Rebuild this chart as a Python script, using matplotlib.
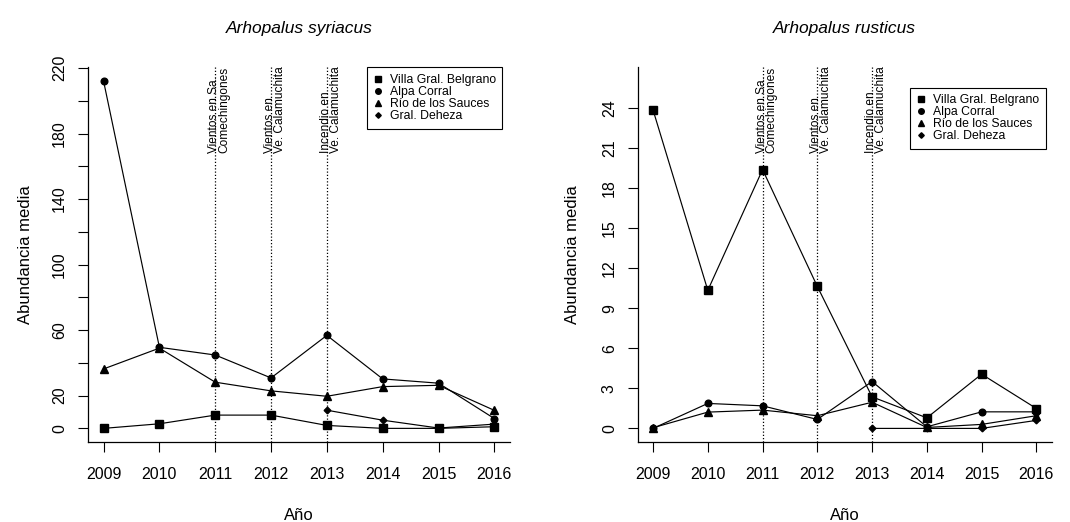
import numpy as np
import matplotlib.pyplot as plt
from matplotlib.lines import Line2D
import matplotlib.transforms as mtransforms

plt.rcParams['font.family'] = ['Liberation Sans', 'DejaVu Sans']

years = [2009, 2010, 2011, 2012, 2013, 2014, 2015, 2016]
sites = ['Villa Gral. Belgrano', 'Alpa Corral', 'Río de los Sauces', 'Gral. Deheza']
markers = ['s', 'o', '^', 'D']
msizes = [5.4, 4.8, 5.8, 3.4]
leg_msizes = [4.2, 4.0, 4.6, 2.8]

# Arhopalus syriacus
syr_villa = [0, 2.8, 8.1, 8.1, 1.8, 0, 0, 1.0]
syr_alpa = [212, 49.5, 44.8, 30.8, 56.8, 30.2, 27.6, 6.0]
syr_rio = [36.3, 49.0, 28.2, 22.9, 19.6, 25.5, 26.3, 11.0]
syr_deheza = [np.nan, np.nan, np.nan, np.nan, 11.1, 5.0, 0.2, 2.6]

# Arhopalus rusticus
rus_villa = [23.84, 10.34, 19.38, 10.63, 2.36, 0.79, 4.06, 1.49]
rus_alpa = [0, 1.87, 1.69, 0.67, 3.51, 0.12, 1.24, 1.24]
rus_rio = [0.05, 1.22, 1.37, 0.95, 1.96, 0.07, 0.3, 0.95]
rus_deheza = [np.nan, np.nan, np.nan, np.nan, 0, 0, 0, 0.6]

syr_yticks = list(range(0, 221, 20))
syr_ylabels = ['0', '20', '', '60', '', '100', '', '140', '', '180', '', '220']
rus_yticks = list(range(0, 25, 3))
rus_ylabels = [str(t) for t in rus_yticks]

event_years = [2011, 2012, 2013]
event_labels = ['Vientos en Sa.\nComechingones',
                'Vientos en\nVe. Calamuchita',
                'Incendio en\nVe. Calamuchita']

fig = plt.figure(figsize=(10.70, 5.22), dpi=100)
ax1 = fig.add_axes([0.0822, 0.1527, 0.3944, 0.7184])
ax2 = fig.add_axes([0.5960, 0.1527, 0.3869, 0.7184])


def draw_panel(ax, title, series, yticks, ylabels, ylim, leg_anchor, ylab_x):
    for vals, m, ms in zip(series, markers, msizes):
        ax.plot(years, vals, color='black', lw=0.85, marker=m, ms=ms,
                mec='black', mfc='black')
    trans = mtransforms.blended_transform_factory(ax.transData, ax.transAxes)
    trans = trans + mtransforms.ScaledTranslation(0.04, 0, fig.dpi_scale_trans)
    for yr, lab in zip(event_years, event_labels):
        ax.axvline(yr, color='black', lw=0.9, ls=(0, (1, 1.6)))
        ax.text(yr, 0.772, lab, rotation=90, ha='center', va='bottom',
                multialignment='left', fontsize=8.6, linespacing=0.78,
                transform=trans)
    ax.set_xlim(2008.72, 2016.28)
    ax.set_ylim(*ylim)
    ax.set_xticks(years)
    ax.set_xticklabels([str(y) for y in years])
    ax.set_yticks(yticks)
    ax.set_yticklabels(ylabels, rotation=90, va='center')
    ax.tick_params(axis='x', length=7, width=0.8, pad=11, labelsize=11.5)
    ax.tick_params(axis='y', length=7, width=0.8, pad=8, labelsize=11.5)
    for s in ['top', 'right']:
        ax.spines[s].set_visible(False)
    for s in ['left', 'bottom']:
        ax.spines[s].set_linewidth(0.9)
    ax.set_title(title, fontsize=12.5, style='italic', pad=25)
    ax.set_xlabel('Año', fontsize=12)
    ax.xaxis.set_label_coords(0.5, -0.175)
    ax.set_ylabel('Abundancia media', fontsize=12)
    ax.yaxis.set_label_coords(ylab_x, 0.5)
    handles = [Line2D([], [], ls='none', marker=m, ms=ms, color='black')
               for m, ms in zip(markers, leg_msizes)]
    leg = ax.legend(handles, sites, loc='upper left', bbox_to_anchor=leg_anchor,
                    fontsize=8.8, frameon=True, fancybox=False, framealpha=1,
                    edgecolor='black', borderpad=0.55, labelspacing=0.0,
                    handlelength=0.7, handletextpad=0.6, borderaxespad=0)
    leg.get_frame().set_linewidth(0.8)


draw_panel(ax1, 'Arhopalus syriacus',
           [syr_villa, syr_alpa, syr_rio, syr_deheza],
           syr_yticks, syr_ylabels, (-8.5, 220.5), (0.661, 1.0), -0.13)
draw_panel(ax2, 'Arhopalus rusticus',
           [rus_villa, rus_alpa, rus_rio, rus_deheza],
           rus_yticks, rus_ylabels, (-1.04, 27.04), (0.658, 0.9456), -0.14)

fig.savefig('out.png', dpi=100)
